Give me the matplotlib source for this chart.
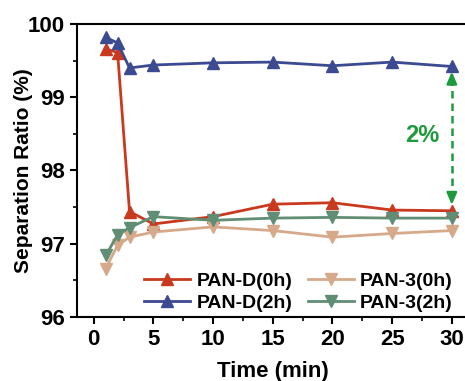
import numpy as np
import matplotlib.pyplot as plt
from matplotlib.ticker import MultipleLocator

plt.rcParams['font.family'] = ['Liberation Sans', 'DejaVu Sans']
plt.rcParams['font.weight'] = 'bold'
plt.rcParams['axes.labelweight'] = 'bold'

# datos
time = [1, 2, 3, 5, 10, 15, 20, 25, 30]
pand_0h = [99.66, 99.61, 97.44, 97.27, 97.37, 97.54, 97.56, 97.46, 97.45]
pand_2h = [99.82, 99.74, 99.40, 99.44, 99.47, 99.48, 99.43, 99.48, 99.42]
pan3_0h = [96.66, 96.98, 97.09, 97.16, 97.23, 97.18, 97.09, 97.14, 97.18]
pan3_2h = [96.84, 97.12, 97.22, 97.37, 97.32, 97.35, 97.36, 97.35, 97.35]

# colores
c_red = '#C8391E'
c_blue = '#3C4A92'
c_tan = '#D6A98A'
c_green = '#5F8E74'
c_arrow = '#1E9A3C'

fig = plt.figure(figsize=(4.65, 3.81), dpi=100)
ax = fig.add_axes([0.1656, 0.168, 0.842, 0.769])

ms = 8
lw = 2
ax.plot(time, pand_0h, marker='^', color=c_red, lw=lw, ms=ms, label='PAN-D(0h)')
ax.plot(time, pand_2h, marker='^', color=c_blue, lw=lw, ms=ms, label='PAN-D(2h)')
ax.plot(time, pan3_0h, marker='v', color=c_tan, lw=lw, ms=ms, label='PAN-3(0h)')
ax.plot(time, pan3_2h, marker='v', color=c_green, lw=lw, ms=ms, label='PAN-3(2h)')

# flecha doble 2%
ax.plot([30, 30], [97.62, 99.26], ls=(0, (3, 2)), color=c_arrow, lw=1.8, zorder=5)
head = dict(arrowstyle='-|>,head_length=0.7,head_width=0.3',
            color=c_arrow, lw=1.8, shrinkA=0, shrinkB=0)
ax.annotate('', xy=(30, 99.35), xytext=(30, 99.2), arrowprops=head, zorder=6)
ax.annotate('', xy=(30, 97.53), xytext=(30, 97.68), arrowprops=head, zorder=6)
ax.text(27.5, 98.48, '2%', color=c_arrow, fontsize=17, fontweight='bold',
        ha='center', va='center')

ax.set_xlim(-1.4, 31.4)
ax.set_ylim(96, 100)
ax.xaxis.set_major_locator(MultipleLocator(5))
ax.xaxis.set_minor_locator(MultipleLocator(2.5))
ax.yaxis.set_major_locator(MultipleLocator(1))
ax.yaxis.set_minor_locator(MultipleLocator(0.5))
ax.tick_params(which='major', direction='out', length=5, width=1.5, labelsize=16)
ax.tick_params(which='minor', direction='out', length=3, width=1.2)
for sp in ax.spines.values():
    sp.set_linewidth(1.5)

ax.set_xlabel('Time (min)', fontsize=16, labelpad=8)
ax.set_ylabel('Separation Ratio (%)', fontsize=15)
ax.yaxis.set_label_coords(-0.112, 0.5)

ax.legend(loc='lower right', ncol=2, frameon=False, fontsize=14,
          handlelength=2.4, handletextpad=0.3, columnspacing=0.8,
          labelspacing=0.2, borderaxespad=0.1, bbox_to_anchor=(0.985, -0.015))

fig.savefig('out.png', dpi=100)
